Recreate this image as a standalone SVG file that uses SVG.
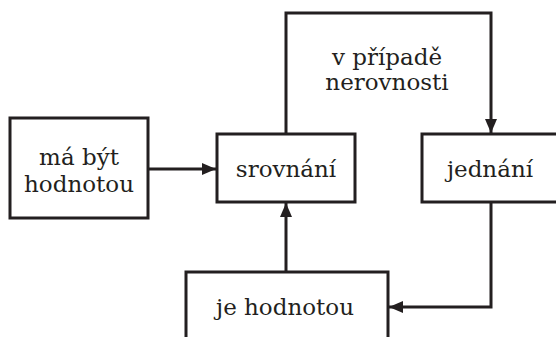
<svg xmlns="http://www.w3.org/2000/svg" width="556" height="337" viewBox="0 0 556 337">
<defs>
<marker id="ah" markerWidth="14" markerHeight="12" refX="14" refY="6" orient="auto" markerUnits="userSpaceOnUse" viewBox="0 0 14 12">
<path d="M0,0 L14,6 L0,12 Z" fill="#231f20"/>
</marker>
<style>
.box{fill:#fff;stroke:#231f20;stroke-width:3}
.t{font-family:"DejaVu Serif","Liberation Serif",serif;font-size:23px;fill:#231f20;text-anchor:middle}
.c{fill:none;stroke:#231f20;stroke-width:3;marker-end:url(#ah)}
</style>
</defs>
<rect width="556" height="337" fill="#fff"/>
<g id="connectors">
<path class="c" d="M148,169 H216"/>
<path class="c" d="M286,134 V13 H491 V133"/>
<path class="c" d="M286,272 V203"/>
<path class="c" d="M491,202 V307 H389"/>
</g>
<g id="label">
<text class="t" x="387" y="65">v případě</text>
<text class="t" x="387" y="90">nerovnosti</text>
</g>
<g id="n1">
<rect class="box" x="10" y="118" width="138" height="100"/>
<text class="t" x="79" y="165">má být</text>
<text class="t" x="79" y="192">hodnotou</text>
</g>
<g id="n2">
<rect class="box" x="217" y="134" width="138" height="68"/>
<text class="t" x="286" y="177">srovnání</text>
</g>
<g id="n3">
<rect class="box" x="422" y="134" width="140" height="68"/>
<text class="t" x="490" y="177">jednání</text>
</g>
<g id="n4">
<rect class="box" x="186" y="272" width="202" height="75"/>
<text class="t" x="285" y="315">je hodnotou</text>
</g>
</svg>
